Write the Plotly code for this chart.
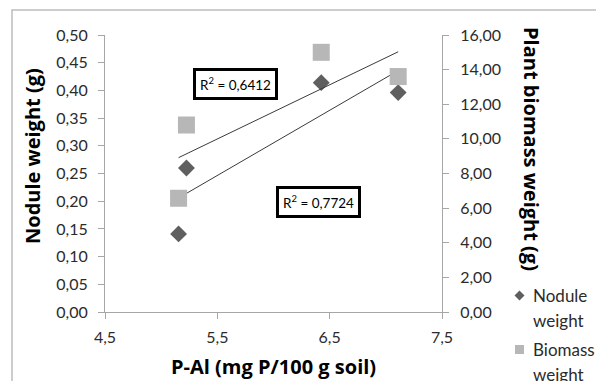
import numpy as np
import plotly.graph_objects as go

# ---- data ----
p_al = [5.155, 5.225, 6.425, 7.11]          # P-Al (mg P/100 g soil)
nodule_weight = [0.141, 0.260, 0.414, 0.396]  # g (left axis)
biomass_weight = [6.57, 10.80, 15.0, 13.6]    # g (right axis)
r2_labels = ["R<sup>2</sup> = 0,6412", "R<sup>2</sup> = 0,7724"]
legend_names = [["Nodule", "weight"], ["Biomass", "weight"]]

FONT = "Lato"
TITLE_FONT = "Open Sans"
TICK_COL = "#2b2b2b"
AXIS_COL = "#a6a6a6"
DIAMOND_COL = "#5f5f5f"
SQUARE_COL = "#b7b7b7"
LINE_COL = "#3a3a3a"

OFF = 8  # page body margin offset
W, H = 604 - OFF, 381 - OFF
PL, PR, PT, PB = 105, 442, 35, 312   # plot area in window pixels
L, T = PL - OFF, PT - OFF
R, B = W - (PR - OFF), H - (PB - OFF)
PW, PH = PR - PL, PB - PT


def px(xpix):
    return (xpix - PL) / PW


def py(ypix):
    return (PB - ypix) / PH


x_arr = np.array(p_al)
x_line = np.array([x_arr.min(), x_arr.max()])
k_n, b_n = np.polyfit(x_arr, np.array(nodule_weight), 1)
k_b, b_b = np.polyfit(x_arr, np.array(biomass_weight), 1)

fig = go.Figure()
fig.add_trace(go.Scatter(x=p_al, y=nodule_weight, mode="markers", name="Nodule weight",
                         marker=dict(symbol="diamond", size=13, color=DIAMOND_COL),
                         showlegend=False, yaxis="y"))
fig.add_trace(go.Scatter(x=x_line, y=k_n * x_line + b_n, mode="lines",
                         line=dict(color=LINE_COL, width=1), showlegend=False, yaxis="y",
                         hoverinfo="skip"))
fig.add_trace(go.Scatter(x=p_al, y=biomass_weight, mode="markers", name="Biomass weight",
                         marker=dict(symbol="square", size=17, color=SQUARE_COL),
                         showlegend=False, yaxis="y2"))
fig.add_trace(go.Scatter(x=x_line, y=k_b * x_line + b_b, mode="lines",
                         line=dict(color=LINE_COL, width=1), showlegend=False, yaxis="y2",
                         hoverinfo="skip"))

tickfont = dict(family=FONT, size=16, color=TICK_COL)
common = dict(showgrid=False, zeroline=False, showline=True, linecolor=AXIS_COL, linewidth=1,
              ticks="outside", ticklen=6, tickcolor=AXIS_COL, tickfont=tickfont)

fig.update_layout(
    width=W, height=H,
    margin=dict(l=L, r=R, t=T, b=B, autoexpand=False),
    paper_bgcolor="white", plot_bgcolor="white",
    separators=",.",
    font=dict(family=FONT),
    xaxis=dict(range=[4.5, 7.5], tick0=4.5, dtick=1, tickformat=".1f",
               ticklabelstandoff=5, **common),
    yaxis=dict(range=[0, 0.5], dtick=0.05, tickformat=".2f", ticklabelstandoff=7, **common),
    yaxis2=dict(range=[0, 16], dtick=2, tickformat=".2f", overlaying="y", side="right",
                ticklabelstandoff=8, **common),
)

title_font = dict(family=TITLE_FONT, size=20, color="#000000")
ann = [
    dict(text="<b>Nodule weight (g)</b>", x=px(32), y=py(156), textangle=-90, font=title_font),
    dict(text="<b>Plant biomass weight (g)</b>", x=px(532), y=py(149), textangle=90, font=title_font),
    dict(text="<b>P-Al (mg P/100 g soil)</b>", x=px(273), y=py(366), font=title_font),
    dict(text=r2_labels[0], x=px(235), y=py(83.5), bordercolor="#000", borderwidth=3, borderpad=4,
         bgcolor="white", font=dict(family=FONT, size=13.5, color="#000")),
    dict(text=r2_labels[1], x=px(318), y=py(201.5), bordercolor="#000", borderwidth=3, borderpad=4,
         bgcolor="white", font=dict(family=FONT, size=13.5, color="#000")),
]
leg_font = dict(family=FONT, size=17, color=TICK_COL)
line_y = [[295, 320], [349, 374]]
for names, ys in zip(legend_names, line_y):
    for nm, yy in zip(names, ys):
        ann.append(dict(text=nm, x=px(531), y=py(yy), xanchor="left", yanchor="middle", font=leg_font))
for a in ann:
    a.setdefault("xref", "paper")
    a.setdefault("yref", "paper")
    a.setdefault("showarrow", False)
    a.setdefault("xanchor", "center")
    a.setdefault("yanchor", "middle")
fig.update_layout(annotations=ann)

shapes = [
    # outer chart-area border
    dict(type="rect", xref="paper", yref="paper", x0=px(12), y0=py(400), x1=px(640), y1=py(10),
         line=dict(color="#bdbdbd", width=1.5), fillcolor="rgba(0,0,0,0)", layer="below"),
    # legend glyphs
    dict(type="path", xref="paper", yref="paper", xsizemode="pixel", ysizemode="pixel",
         xanchor=px(519.5), yanchor=py(295.5), path="M -5 0 L 0 5 L 5 0 L 0 -5 Z",
         fillcolor=DIAMOND_COL, line=dict(width=0)),
    dict(type="rect", xref="paper", yref="paper", xsizemode="pixel", ysizemode="pixel",
         xanchor=px(519.5), yanchor=py(349.5), x0=-4.5, x1=4.5, y0=-4.5, y1=4.5,
         fillcolor=SQUARE_COL, line=dict(width=0)),
]
fig.update_layout(shapes=shapes)

fig.write_html("out.html")
